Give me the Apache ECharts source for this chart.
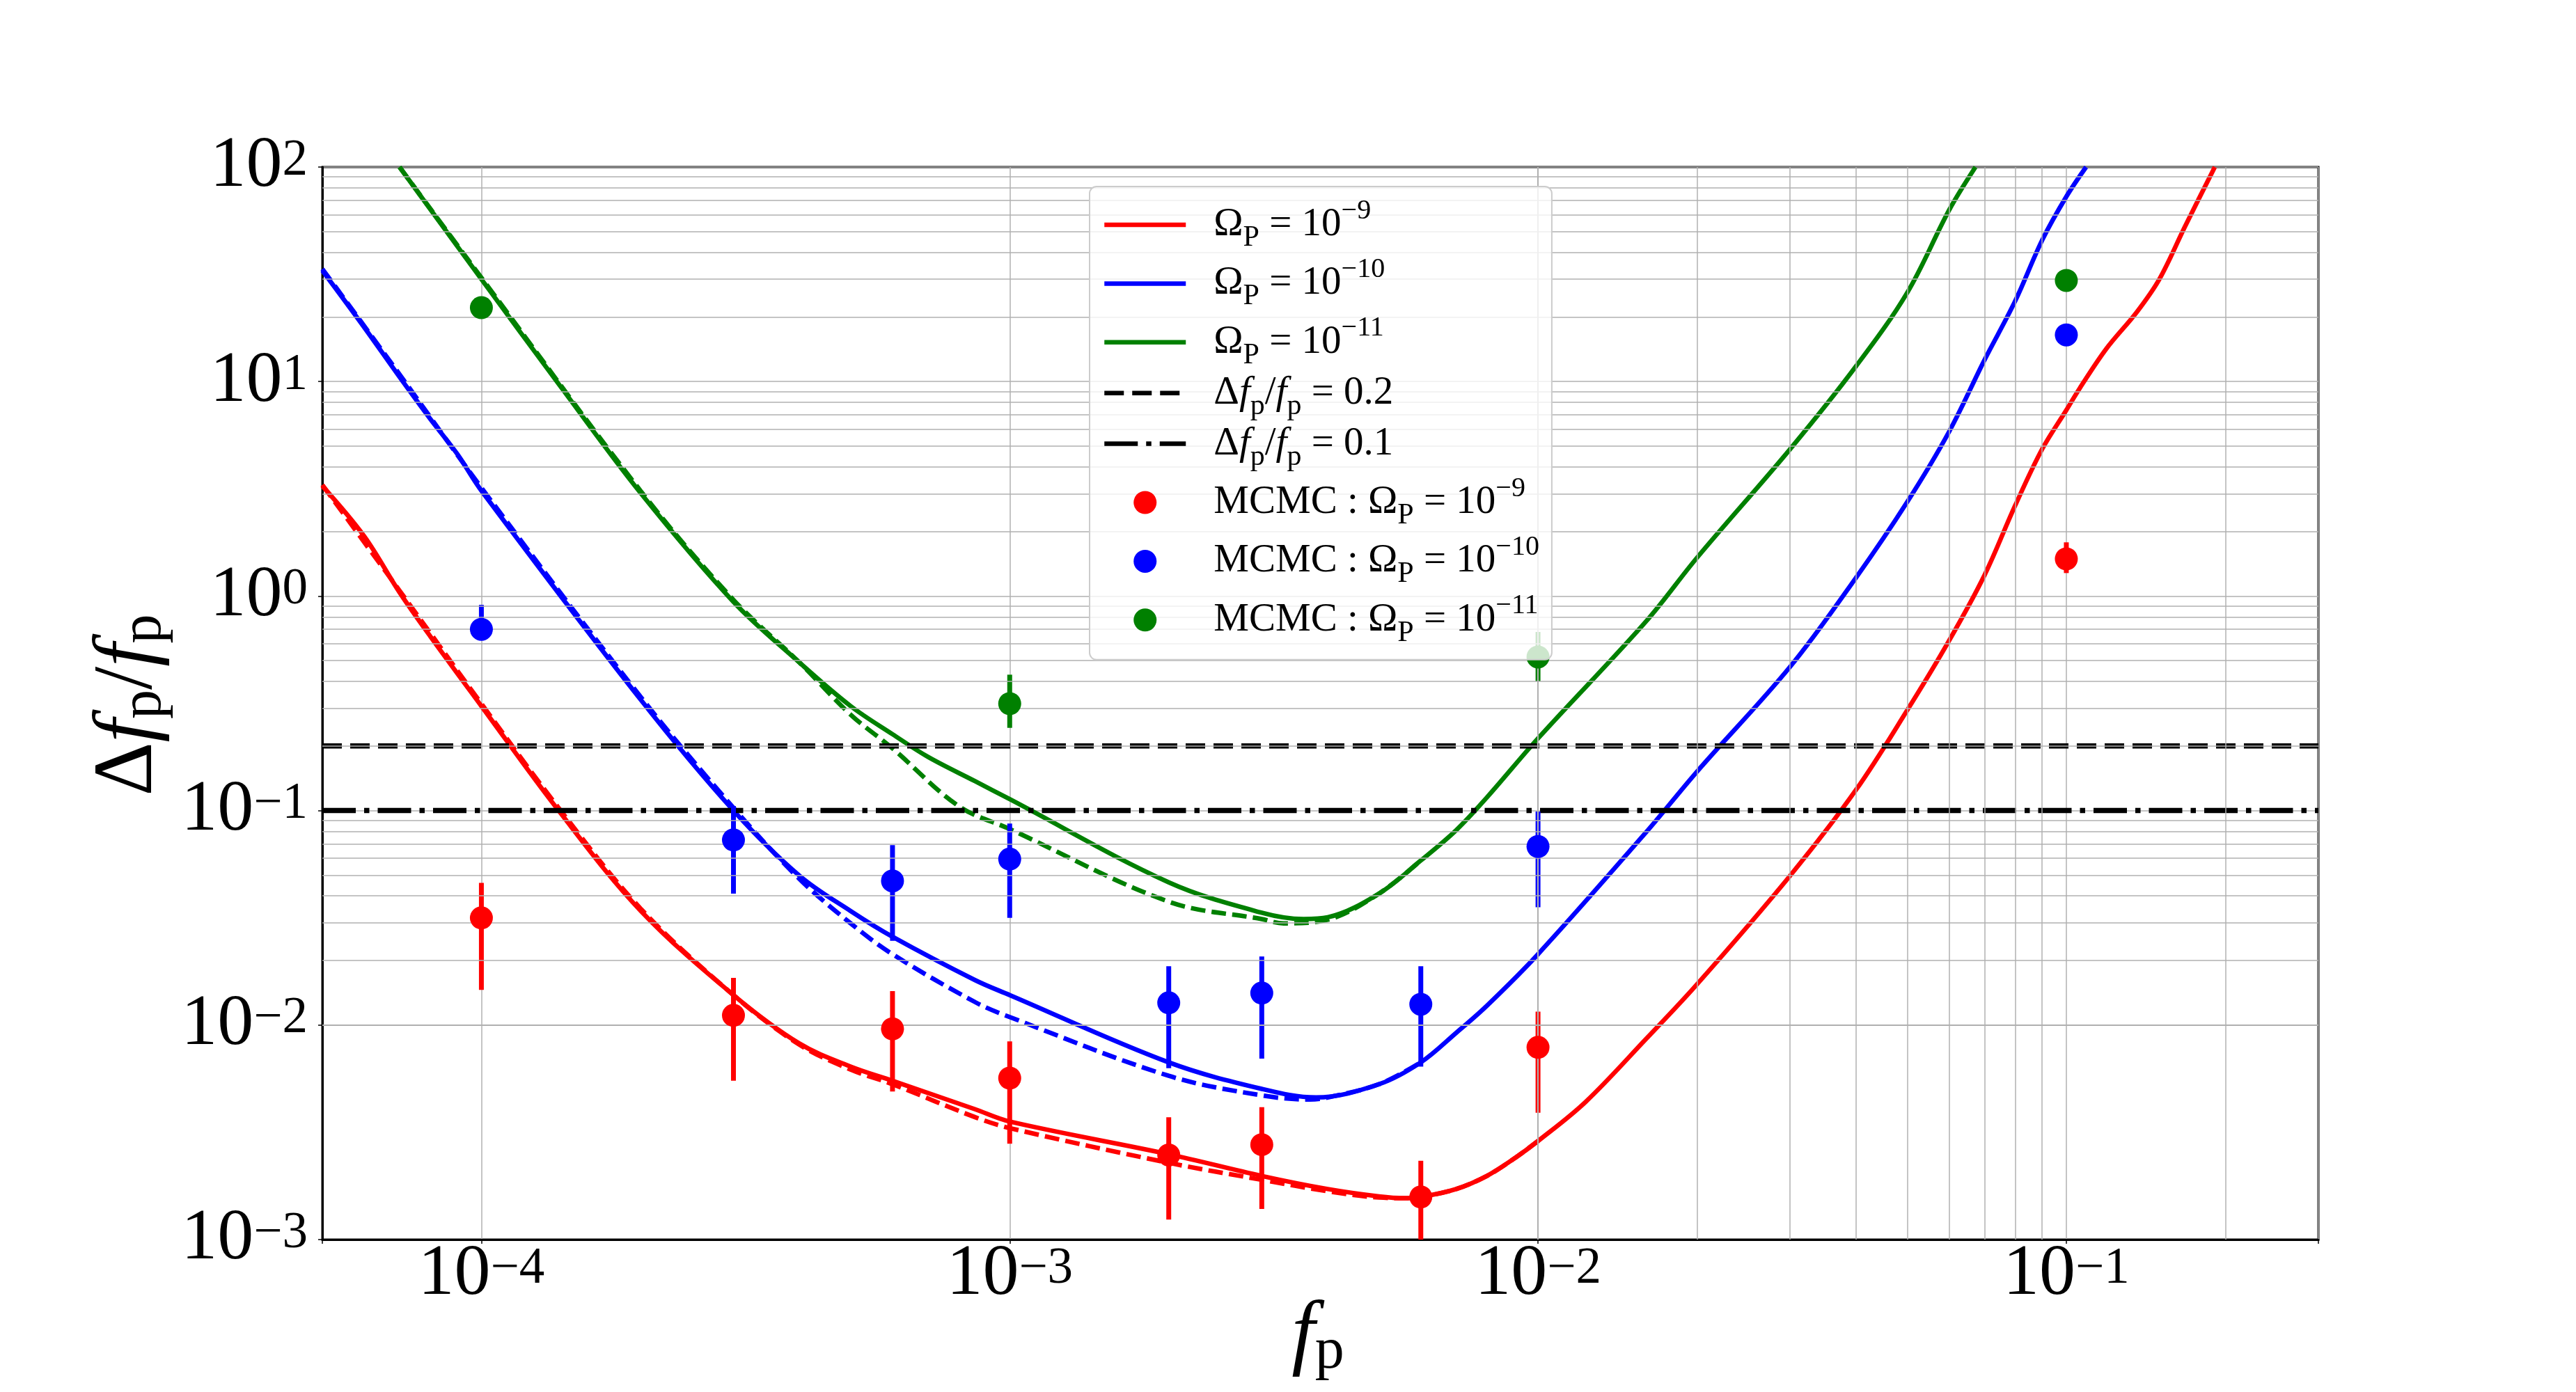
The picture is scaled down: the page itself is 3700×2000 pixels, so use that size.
<!DOCTYPE html>
<html>
<head>
<meta charset="utf-8">
<title>Δf_p / f_p</title>
<script src="https://cdn.jsdelivr.net/npm/echarts@6/dist/echarts.min.js"></script>
<style>
  html, body { margin: 0; padding: 0; background: #fff; }
  #main { width: 3700px; height: 2000px; }
</style>
</head>
<body>
<div id="main"></div>
<script>
// ---- curves ----
var redX  = [5e-5, 6e-5, 7e-5, 8e-5, 1e-4, 1.4e-4, 2e-4, 3e-4, 4e-4, 5e-4, 6e-4, 8.6e-4, 1e-3, 2e-3, 3e-3, 4e-3, 5e-3, 5.6e-3, 6e-3, 7e-3, 8e-3, 9e-3, 1e-2, 1.23e-2, 1.6e-2, 2e-2, 3e-2, 4e-2, 5e-2, 6e-2, 7e-2, 8e-2, 9e-2, 0.1, 0.106, 0.119, 0.136, 0.15, 0.1676, 0.191];
var redY  = [3.26, 1.9, 1.04, 0.65, 0.307, 0.1, 0.0342, 0.0138, 0.0082, 0.0064, 0.0055, 0.00405, 0.00355, 0.0025, 0.00198, 0.00172, 0.00159, 0.00156, 0.00158, 0.00172, 0.00198, 0.00238, 0.00288, 0.00438, 0.0086, 0.0155, 0.0497, 0.125, 0.294, 0.62, 1.25, 2.64, 4.84, 7.36, 9.3, 14.2, 21.1, 30, 52.6, 100];
var redDX = [5e-5, 7e-5, 1e-4, 1.4e-4, 2e-4, 3e-4, 4e-4, 5e-4, 6e-4, 8.6e-4, 1e-3, 2e-3, 3e-3, 4e-3, 5e-3, 5.6e-3, 6e-3, 7e-3, 8e-3, 9e-3, 1e-2];
var redDY = [3.3, 1.06, 0.315, 0.103, 0.035, 0.0138, 0.0081, 0.0062, 0.0053, 0.00372, 0.00331, 0.00228, 0.0019, 0.00168, 0.00157, 0.00156, 0.00158, 0.00172, 0.00198, 0.00238, 0.00288];

var blueX  = [5e-5, 6e-5, 7e-5, 8e-5, 9e-5, 1e-4, 2e-4, 3e-4, 4e-4, 5e-4, 6e-4, 8.6e-4, 1e-3, 2e-3, 3e-3, 3.8e-3, 5e-3, 6e-3, 7e-3, 8e-3, 1e-2, 1.6e-2, 2e-2, 3e-2, 4e-2, 5e-2, 6e-2, 7e-2, 8e-2, 9e-2, 0.1, 0.109];
var blueY  = [32.9, 17.9, 10.5, 6.7, 4.6, 3.1, 0.33, 0.1, 0.0497, 0.034, 0.0258, 0.0162, 0.0138, 0.0067, 0.00504, 0.0046, 0.0053, 0.0067, 0.0092, 0.0123, 0.0214, 0.079, 0.152, 0.468, 1.22, 2.75, 5.84, 12.6, 23.7, 45.6, 72.8, 100];
var blueDX = [5e-5, 7e-5, 1e-4, 2e-4, 3e-4, 4e-4, 5e-4, 6e-4, 8.6e-4, 1e-3, 2e-3, 3e-3, 3.7e-3, 4e-3, 5e-3, 6e-3];
var blueDY = [33.5, 10.8, 3.2, 0.34, 0.103, 0.048, 0.0298, 0.0214, 0.0128, 0.0109, 0.0058, 0.0047, 0.0045, 0.0046, 0.0053, 0.0067];

var greenX  = [7e-5, 1e-4, 1.42e-4, 2e-4, 3e-4, 4e-4, 5e-4, 6e-4, 7e-4, 8.6e-4, 1e-3, 2e-3, 3e-3, 3.6e-3, 4e-3, 5e-3, 6e-3, 7e-3, 8e-3, 1e-2, 1.6e-2, 2e-2, 3e-2, 4e-2, 5e-2, 6e-2, 6.73e-2];
var greenY  = [100, 30, 9.3, 3.03, 0.94, 0.49, 0.307, 0.227, 0.178, 0.137, 0.113, 0.0463, 0.0334, 0.0312, 0.0318, 0.041, 0.0585, 0.081, 0.115, 0.217, 0.76, 1.51, 4.84, 11.8, 26, 63, 100];
var greenDX = [7e-5, 1e-4, 2e-4, 3e-4, 4e-4, 5e-4, 6e-4, 8e-4, 1e-3, 2e-3, 3e-3, 3.3e-3, 4e-3, 5e-3, 6e-3];
var greenDY = [100, 30.5, 3.1, 0.96, 0.49, 0.28, 0.195, 0.105, 0.082, 0.0376, 0.0312, 0.0298, 0.031, 0.041, 0.0585];

// horizontal reference levels
var levelX = [5e-5, 0.3];
var level02 = [0.2, 0.2];
var level01 = [0.1, 0.1];

// ---- MCMC points with error bars ----
var mcmcX  = [1e-4, 3e-4, 6e-4, 1e-3, 2e-3, 3e-3, 6e-3, 1e-2, 0.1];
var redMc  = [0.0316, 0.0111, 0.0096, 0.00566, 0.00248, 0.00277, 0.00158, 0.00787, 1.49];
var redLo  = [0.0146, 0.0055, 0.0049, 0.0028, 0.00124, 0.00139, 0.001, 0.0039, 1.28];
var redHi  = [0.046, 0.0166, 0.0144, 0.0084, 0.00372, 0.00414, 0.00233, 0.01156, 1.78];
var blueMc = [0.70, 0.073, 0.047, 0.0594, 0.0127, 0.0141, 0.0125, 0.068, 16.5];
var blueLo = [0.66, 0.041, 0.0247, 0.0316, 0.0063, 0.00698, 0.0064, 0.0354, 16.0];
var blueHi = [0.91, 0.105, 0.069, 0.087, 0.0188, 0.0209, 0.0188, 0.099, 17.0];
var greenMcX = [1e-4, 1e-3, 1e-2, 0.1];
var greenMc  = [22.1, 0.315, 0.52, 29.6];
var greenLo  = [21.5, 0.243, 0.40, 27.5];
var greenHi  = [22.7, 0.43, 0.68, 31.5];

// axis decades
var xDecades = [-5, -4, -3, -2, -1];
var yDecades = [-3, -2, -1, 0, 1];

var SERIF = "'Liberation Serif', 'DejaVu Serif', serif";

function pairs(xs, ys) { return xs.map(function (x, i) { return [x, ys[i]]; }); }
function triples(xs, lo, hi) { return xs.map(function (x, i) { return [x, lo[i], hi[i]]; }); }

// minor grid positions 2..9 x 10^k
var minorX = [], minorY = [];
xDecades.forEach(function (d) {
    for (var m = 2; m <= 9; m++) { var v = m * Math.pow(10, d); if (v > 5.0001e-5 && v < 0.2999) minorX.push(v); }
});
yDecades.forEach(function (d) {
    for (var m = 2; m <= 9; m++) minorY.push(m * Math.pow(10, d));
});

function powLabel(v) {
    var e = Math.log10(v);
    var r = Math.round(e);
    if (Math.abs(e - r) > 1e-6) return '';
    return '{b|10}{s|' + String(r).replace('-', '\u2212') + '}';
}

var tickRich = {
    b: { fontSize: 104, lineHeight: 90, fontFamily: SERIF, color: '#000' },
    s: { fontSize: 73, lineHeight: 41, verticalAlign: 'top', fontFamily: SERIF, color: '#000' }
};

var titleRich = {
    t: { fontSize: 120, lineHeight: 130, fontFamily: SERIF, color: '#000' },
    i: { fontSize: 120, lineHeight: 130, fontFamily: SERIF, fontStyle: 'italic', color: '#000' },
    s: { fontSize: 84, lineHeight: 66, verticalAlign: 'bottom', fontFamily: SERIF, color: '#000' }
};

var legendRich = {
    sp: { width: 35, fontSize: 10, lineHeight: 80 },
    t: { fontSize: 57, lineHeight: 80, fontFamily: SERIF, color: '#000' },
    it: { fontSize: 57, lineHeight: 80, fontFamily: SERIF, fontStyle: 'italic', color: '#000' },
    sub: { fontSize: 42, lineHeight: 59, verticalAlign: 'bottom', fontFamily: SERIF, color: '#000' },
    sup: { fontSize: 40, lineHeight: 53, verticalAlign: 'top', fontFamily: SERIF, color: '#000' }
};

var legendLabels = {
    line9:   '{sp| }{t|\u03A9}{sub|P}{t| = 10}{sup|\u22129}',
    line10:  '{sp| }{t|\u03A9}{sub|P}{t| = 10}{sup|\u221210}',
    line11:  '{sp| }{t|\u03A9}{sub|P}{t| = 10}{sup|\u221211}',
    lev02:   '{sp| }{t|\u0394}{it|f}{sub|p}{t|/}{it|f}{sub|p}{t| = 0.2}',
    lev01:   '{sp| }{t|\u0394}{it|f}{sub|p}{t|/}{it|f}{sub|p}{t| = 0.1}',
    mcmc9:   '{sp| }{t|MCMC : \u03A9}{sub|P}{t| = 10}{sup|\u22129}',
    mcmc10:  '{sp| }{t|MCMC : \u03A9}{sub|P}{t| = 10}{sup|\u221210}',
    mcmc11:  '{sp| }{t|MCMC : \u03A9}{sub|P}{t| = 10}{sup|\u221211}'
};

var COLW = 6.5;     // coloured curves
var BLKW = 7.5;     // black reference lines
var DASH = [21, 9];
var BDASH = [28, 12];
var DASHDOT = [48, 12, 7.5, 12];

function curve(name, xs, ys, color, dash) {
    return {
        name: name, type: 'line', data: pairs(xs, ys),
        symbol: 'none', smooth: 0.35, z: 3,
        lineStyle: { color: color, width: COLW, type: dash || 'solid', cap: 'butt' },
        itemStyle: { color: color }
    };
}

function errorBarItem(params, api) {
    var hi = api.coord([api.value(0), api.value(2)]);
    var lo = api.coord([api.value(0), api.value(1)]);
    return {
        type: 'line',
        shape: { x1: hi[0], y1: hi[1], x2: lo[0], y2: lo[1] },
        style: { stroke: api.visual('color'), lineWidth: 7 }
    };
}

function errBars(xs, lo, hi, color) {
    return {
        type: 'custom', renderItem: errorBarItem, data: triples(xs, lo, hi),
        encode: { x: 0, y: [1, 2] }, itemStyle: { color: color }, z: 4, clip: true, silent: true
    };
}

function points(name, xs, ys, color) {
    return {
        name: name, type: 'scatter', data: pairs(xs, ys), symbol: 'circle', symbolSize: 33,
        itemStyle: { color: color, opacity: 1 }, z: 5
    };
}

var gridLine = { color: '#b0b0b0', width: 1.5 };

var chart = echarts.init(document.getElementById('main'));

var option = {
    animation: false,
    backgroundColor: '#fff',
    textStyle: { fontFamily: SERIF },
    grid: {
        left: 463, top: 240, width: 2867, height: 1541,
        show: true, borderColor: '#000', borderWidth: 3, backgroundColor: 'transparent',
        containLabel: false, outerBoundsMode: 'none'
    },
    xAxis: {
        type: 'log', logBase: 10, min: 5e-5, max: 0.3,
        axisLine: { show: true, lineStyle: { color: '#000', width: 3 } },
        axisTick: { show: true, length: 6, lineStyle: { color: '#000', width: 1.5 } },
        axisLabel: { formatter: powLabel, rich: tickRich, margin: 6, showMinLabel: true, showMaxLabel: true, hideOverlap: false },
        splitLine: { show: true, lineStyle: gridLine },
        minorTick: { show: false }
    },
    yAxis: {
        type: 'log', logBase: 10, min: 1e-3, max: 100,
        axisLine: { show: true, lineStyle: { color: '#000', width: 3 } },
        axisTick: { show: true, length: 6, lineStyle: { color: '#000', width: 1.5 } },
        axisLabel: { formatter: powLabel, rich: tickRich, margin: 21, hideOverlap: false },
        splitLine: { show: true, lineStyle: gridLine }
    },
    legend: {
        orient: 'vertical', left: 1565, top: 268, z: 10,
        padding: [15, 18, 17, 18], itemGap: 4.4,
        itemWidth: 117, itemHeight: 33,
        backgroundColor: 'rgba(255,255,255,0.8)', borderColor: '#cccccc', borderWidth: 2, borderRadius: 10,
        selectedMode: false,
        formatter: function (name) { return legendLabels[name]; },
        textStyle: { color: '#000', fontFamily: SERIF, rich: legendRich },
        data: [
            { name: 'line9', itemStyle: { opacity: 0 }, lineStyle: { width: 6.5, type: 'solid', color: 'red' } },
            { name: 'line10', itemStyle: { opacity: 0 }, lineStyle: { width: 6.5, type: 'solid', color: 'blue' } },
            { name: 'line11', itemStyle: { opacity: 0 }, lineStyle: { width: 6.5, type: 'solid', color: 'green' } },
            { name: 'lev02', itemStyle: { opacity: 0 }, lineStyle: { width: 6.5, type: BDASH, color: '#000' } },
            { name: 'lev01', itemStyle: { opacity: 0 }, lineStyle: { width: 6.5, type: DASHDOT, color: '#000' } },
            'mcmc9', 'mcmc10', 'mcmc11'
        ]
    },
    graphic: [
        {
            type: 'text', x: 185, y: 1013, rotation: Math.PI / 2, z: 10,
            style: {
                text: '{t|\u0394}{i|f}{s|p}{t|/}{i|f}{s|p}', rich: titleRich,
                align: 'center', verticalAlign: 'middle', textAlign: 'center', textVerticalAlign: 'middle'
            }
        },
        {
            type: 'text', x: 1893, y: 1920, z: 10,
            style: {
                text: '{i|f}{s|p}', rich: titleRich,
                align: 'center', verticalAlign: 'middle', textAlign: 'center', textVerticalAlign: 'middle'
            }
        }
    ],
    series: [
        {
            name: 'minor-grid', type: 'line', data: [], z: 1, silent: true,
            markLine: {
                silent: true, symbol: ['none', 'none'], animation: false,
                label: { show: false }, emphasis: { disabled: true },
                lineStyle: { color: '#b0b0b0', width: 1.5, type: 'solid' },
                data: minorX.map(function (v) { return { xAxis: v }; })
                    .concat(minorY.map(function (v) { return { yAxis: v }; }))
            }
        },
        curve('line9', redX, redY, 'red'),
        curve('line10', blueX, blueY, 'blue'),
        curve('line11', greenX, greenY, 'green'),
        curve('dash9', redDX, redDY, 'red', DASH),
        curve('dash10', blueDX, blueDY, 'blue', DASH),
        curve('dash11', greenDX, greenDY, 'green', DASH),
        {
            name: 'lev02', type: 'line', data: pairs(levelX, level02), symbol: 'none', z: 3,
            lineStyle: { color: '#000', width: BLKW, type: BDASH, cap: 'butt' }, itemStyle: { color: '#000' }
        },
        {
            name: 'lev01', type: 'line', data: pairs(levelX, level01), symbol: 'none', z: 3,
            lineStyle: { color: '#000', width: BLKW, type: DASHDOT, cap: 'butt' }, itemStyle: { color: '#000' }
        },
        errBars(mcmcX, redLo, redHi, 'red'),
        errBars(mcmcX, blueLo, blueHi, 'blue'),
        errBars(greenMcX, greenLo, greenHi, 'green'),
        points('mcmc9', mcmcX, redMc, 'red'),
        points('mcmc10', mcmcX, blueMc, 'blue'),
        points('mcmc11', greenMcX, greenMc, 'green')
    ]
};

chart.setOption(option);
</script>
</body>
</html>
